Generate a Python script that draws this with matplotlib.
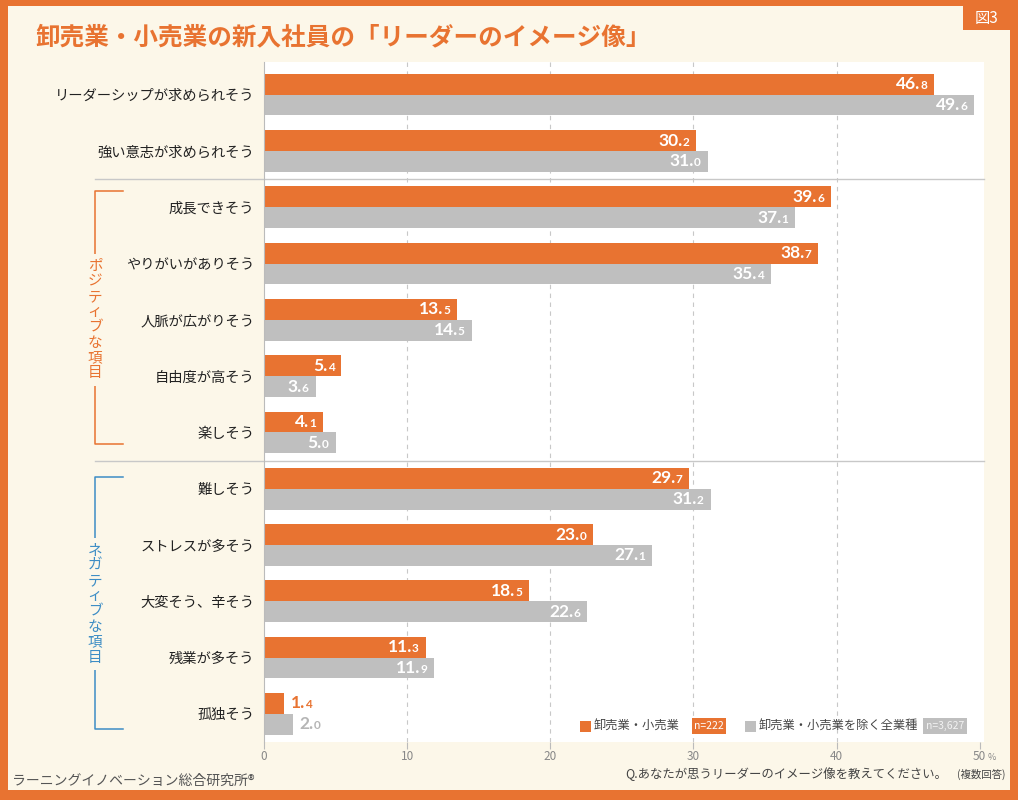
import matplotlib.pyplot as plt
from matplotlib.patches import Rectangle
from matplotlib.lines import Line2D
from matplotlib.offsetbox import TextArea, HPacker, AnnotationBbox
import matplotlib.transforms as mtransforms

plt.rcParams['font.family'] = ['Noto Sans CJK JP', 'DejaVu Sans']

# data
categories = ["リーダーシップが求められそう", "強い意志が求められそう", "成長できそう",
              "やりがいがありそう", "人脈が広がりそう", "自由度が高そう", "楽しそう",
              "難しそう", "ストレスが多そう", "大変そう、辛そう", "残業が多そう", "孤独そう"]
wholesale = [46.8, 30.2, 39.6, 38.7, 13.5, 5.4, 4.1, 29.7, 23.0, 18.5, 11.3, 1.4]
all_other = [49.6, 31.0, 37.1, 35.4, 14.5, 3.6, 5.0, 31.2, 27.1, 22.6, 11.9, 2.0]
xticks = [0, 10, 20, 30, 40, 50]

ORANGE = "#E87331"
GRAY = "#BFBFBF"
CREAM = "#FCF7E9"
BLUE = "#3D8DC5"
W, H = 1018, 800

fig = plt.figure(figsize=(W / 100, H / 100), dpi=100, facecolor=ORANGE)
# cream panel inside orange frame
fig.patches.append(Rectangle((8 / W, 10 / H), 1002 / W, 784 / H, transform=fig.transFigure,
                             facecolor=CREAM, edgecolor="none", zorder=-2))
# 図3 tab
fig.patches.append(Rectangle((963 / W, 1 - 30 / H), 47 / W, 24 / H, transform=fig.transFigure,
                             facecolor=ORANGE, edgecolor="none", zorder=1))
fig.text(986.5 / W, 1 - 18 / H, "図3", color="white", fontsize=11, ha="center", va="center")

fig.text(35 / W, 1 - 37 / H, "卸売業・小売業の新入社員の「リーダーのイメージ像」",
         color=ORANGE, fontsize=17.7, fontweight="bold", va="center", ha="left")

ax = fig.add_axes([264 / W, 1 - 742 / H, 720 / W, 680 / H])
ax.set_facecolor("white")

y = list(range(len(categories)))
bh = 0.37
ax.barh([v - bh / 2 for v in y], wholesale, height=bh, color=ORANGE, zorder=3)
ax.barh([v + bh / 2 for v in y], all_other, height=bh, color=GRAY, zorder=3)

ax.set_xlim(0, 50.3)
ax.set_ylim(11.5, -0.58)
ax.set_yticks(y)
ax.set_yticklabels(categories, fontsize=10.3, color="#222222")
ax.tick_params(axis="y", length=0, pad=7)
ax.set_xticks(xticks)
ax.set_xticklabels([str(t) for t in xticks], fontsize=8.5, color="#888888")
ax.tick_params(axis="x", length=5, color="#BBBBBB", pad=1)
ax.text(50.55, -0.016, "%", transform=mtransforms.blended_transform_factory(ax.transData, ax.transAxes),
        fontsize=6.5, color="#888888", va="top", ha="left")
for t in xticks[1:-1]:
    ax.axvline(t, color="#C8C8C8", linestyle=(0, (4, 4)), linewidth=0.8, zorder=1)
for s in ["top", "right", "bottom"]:
    ax.spines[s].set_visible(False)
ax.spines["left"].set_color("#BBBBBB")
ax.spines["left"].set_zorder(4)


def value_label(val, ypos, bar_color):
    s = f"{val:.1f}"
    whole, dec = s.split(".")
    inside = val >= 3
    col = "white" if inside else bar_color
    pack = HPacker(children=[
        TextArea(whole + ".", textprops=dict(family="Lato", fontweight="bold", fontsize=12.5, color=col)),
        TextArea(dec, textprops=dict(family="Lato", fontweight="bold", fontsize=8.5, color=col)),
    ], align="baseline", pad=0, sep=0)
    if inside:
        ab = AnnotationBbox(pack, (val, ypos), xybox=(-5, 0), xycoords="data",
                            boxcoords="offset points", box_alignment=(1, 0.5), frameon=False)
    else:
        ab = AnnotationBbox(pack, (val, ypos), xybox=(5, 0), xycoords="data",
                            boxcoords="offset points", box_alignment=(0, 0.5), frameon=False)
    ab.set_zorder(5)
    ax.add_artist(ab)


for i in y:
    value_label(wholesale[i], i - bh / 2, ORANGE)
    value_label(all_other[i], i + bh / 2, "#B5B5B5")

# separators and brackets (axes x, data y)
blend = mtransforms.blended_transform_factory(ax.transAxes, ax.transData)
x0 = (95 - 264) / 720
x1 = (123 - 264) / 720
for sep in [1.5, 6.5]:
    ax.add_line(Line2D([x0, 1.0], [sep, sep], transform=blend, color="#C8C8C8",
                       linewidth=1, clip_on=False, zorder=2))


def bracket(top, bottom, mid, label, color):
    ax.add_line(Line2D([x1, x0, x0, x1], [top, top, bottom, bottom], transform=blend,
                       color=color, linewidth=1.1, clip_on=False))
    ax.text(x0, mid, "\n".join(label), transform=blend, color=color, fontsize=10.5,
            ha="center", va="center", linespacing=1.12,
            bbox=dict(facecolor=CREAM, edgecolor="none", pad=4))


bracket(1.71, 6.2, 4.0, "ポジティブな項目", ORANGE)
bracket(6.8, 11.27, 9.05, "ネガティブな項目", BLUE)

# legend
ly = 1 - 726 / H
fig.patches.append(Rectangle((580 / W, ly - 5.5 / H), 11 / W, 11 / H, transform=fig.transFigure,
                             facecolor=ORANGE, edgecolor="none", zorder=3))
fig.text(594 / W, ly, "卸売業・小売業", fontsize=8.8, color="#444444", va="center", ha="left", zorder=3)
fig.text(709 / W, ly, "n=222", fontsize=7.5, color="white", va="center", ha="center", zorder=3,
         bbox=dict(facecolor=ORANGE, edgecolor="none", boxstyle="square,pad=0.25"))
fig.patches.append(Rectangle((745 / W, ly - 5.5 / H), 11 / W, 11 / H, transform=fig.transFigure,
                             facecolor=GRAY, edgecolor="none", zorder=3))
fig.text(759 / W, ly, "卸売業・小売業を除く全業種", fontsize=8.8, color="#444444", va="center", ha="left",
         zorder=3)
fig.text(945 / W, ly, "n=3,627", fontsize=7.5, color="#F2F2F2", va="center", ha="center", zorder=3,
         bbox=dict(facecolor=GRAY, edgecolor="none", boxstyle="square,pad=0.25"))

# footer texts
fy = 1 - 774 / H
fig.text(1005 / W, fy, "(複数回答)", fontsize=7.5, color="#444444", ha="right", va="center")
fig.text(947 / W, fy, "Q.あなたが思うリーダーのイメージ像を教えてください。", fontsize=8.9,
         color="#444444", ha="right", va="center")
fig.text(12 / W, 1 - 781 / H, "ラーニングイノベーション総合研究所®", fontsize=10, color="#555555",
         ha="left", va="center")

fig.savefig("out.png", dpi=100, facecolor=ORANGE)
